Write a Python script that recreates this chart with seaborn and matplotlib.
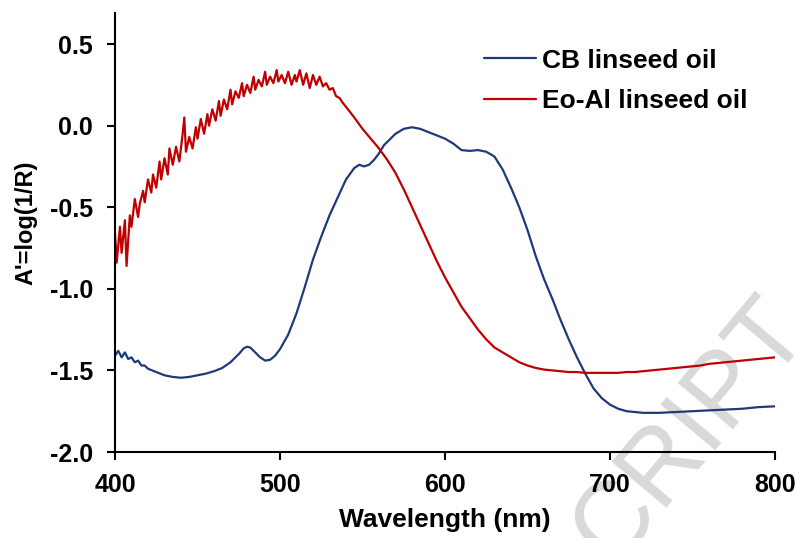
import numpy as np
import pandas as pd
import matplotlib
matplotlib.use("Agg")
import matplotlib.pyplot as plt
import seaborn as sns

# ---- data ----
cb_wavelength = [400, 402, 404, 406, 408, 410, 412, 414, 416, 418, 420, 425, 430, 435, 440,
                 445, 450, 455, 460, 465, 470, 475, 478, 480, 482, 485, 488, 491, 494, 497,
                 500, 505, 510, 515, 520, 525, 530, 535, 540, 545, 548, 551, 554, 557, 560,
                 563, 566, 570, 575, 580, 585, 590, 595, 600, 605, 610, 615, 620, 625, 630,
                 635, 640, 645, 650, 655, 660, 665, 670, 675, 680, 685, 690, 695, 700, 705,
                 710, 715, 720, 730, 740, 750, 760, 770, 780, 790, 800]
cb_absorb = [-1.41, -1.38, -1.42, -1.39, -1.43, -1.42, -1.45, -1.44, -1.47, -1.47, -1.49,
             -1.51, -1.53, -1.54, -1.545, -1.54, -1.53, -1.52, -1.505, -1.485, -1.45, -1.40,
             -1.365, -1.355, -1.36, -1.39, -1.42, -1.44, -1.435, -1.41, -1.37, -1.28, -1.15,
             -0.99, -0.82, -0.68, -0.55, -0.44, -0.33, -0.26, -0.24, -0.25, -0.24, -0.21,
             -0.17, -0.12, -0.09, -0.05, -0.02, -0.01, -0.02, -0.04, -0.06, -0.08, -0.11,
             -0.15, -0.155, -0.15, -0.16, -0.19, -0.27, -0.38, -0.50, -0.64, -0.80, -0.94,
             -1.06, -1.19, -1.31, -1.42, -1.52, -1.61, -1.67, -1.71, -1.735, -1.75, -1.755,
             -1.76, -1.76, -1.755, -1.75, -1.745, -1.74, -1.735, -1.725, -1.72]

eo_wavelength = [400, 401, 403, 404, 406, 407, 409, 410, 412, 414, 415, 417, 418, 420, 422,
                 423, 425, 427, 428, 430, 432, 433, 435, 437, 439, 441, 442, 443, 445, 447,
                 449, 450, 452, 454, 456, 457, 459, 461, 463, 464, 466, 468, 470, 471, 473,
                 475, 477, 478, 480, 482, 484, 485, 487, 489, 491, 492, 494, 496, 498, 499,
                 501, 503, 505, 507, 509, 510, 512, 514, 516, 518, 520, 522, 524, 526, 528,
                 530, 532, 534, 536, 538, 540,
                 545, 550, 555, 560, 565, 570, 575, 580, 585, 590, 595, 600, 605, 610, 615,
                 620, 625, 630, 635, 640, 645, 650, 655, 660, 665, 670, 675, 680, 685, 690,
                 695, 700, 705, 710, 715, 720, 725, 730, 735, 740, 745, 750, 755, 760, 765,
                 770, 775, 780, 785, 790, 795, 800]
eo_absorb = [-0.66, -0.84, -0.62, -0.78, -0.58, -0.86, -0.55, -0.62, -0.45, -0.56, -0.48,
             -0.40, -0.47, -0.33, -0.41, -0.30, -0.38, -0.22, -0.33, -0.20, -0.30, -0.14,
             -0.24, -0.13, -0.22, -0.05, 0.05, -0.16, -0.07, -0.14, -0.01, -0.08, 0.04,
             -0.05, 0.07, 0.00, 0.10, 0.03, 0.15, 0.06, 0.16, 0.10, 0.22, 0.13, 0.21,
             0.17, 0.26, 0.18, 0.25, 0.20, 0.30, 0.22, 0.28, 0.24, 0.33, 0.25, 0.30, 0.26,
             0.34, 0.27, 0.31, 0.26, 0.33, 0.25, 0.31, 0.27, 0.34, 0.25, 0.32, 0.23, 0.31,
             0.25, 0.30, 0.24, 0.26, 0.22, 0.23, 0.18, 0.17, 0.14, 0.115,
             0.05, -0.02, -0.08, -0.14, -0.21, -0.29, -0.39, -0.50, -0.61, -0.72, -0.83,
             -0.93, -1.02, -1.11, -1.18, -1.25, -1.31, -1.36, -1.39, -1.42, -1.45, -1.47,
             -1.485, -1.495, -1.50, -1.505, -1.51, -1.51, -1.515, -1.515, -1.515, -1.515,
             -1.515, -1.51, -1.51, -1.505, -1.50, -1.495, -1.49, -1.485, -1.48, -1.475,
             -1.47, -1.46, -1.455, -1.45, -1.445, -1.44, -1.435, -1.43, -1.425, -1.42]

series_names = ["CB linseed oil", "Eo-Al linseed oil"]
series_colors = ["#1F3A7A", "#C00000"]
x_ticks = [400, 500, 600, 700, 800]
y_ticks = [0.5, 0.0, -0.5, -1.0, -1.5, -2.0]

df = pd.concat([
    pd.DataFrame({"Wavelength": cb_wavelength, "A": cb_absorb, "series": series_names[0]}),
    pd.DataFrame({"Wavelength": eo_wavelength, "A": eo_absorb, "series": series_names[1]}),
], ignore_index=True)

sns.set_theme(style="ticks")
plt.rcParams["font.family"] = ["Liberation Sans", "DejaVu Sans"]
plt.rcParams["font.weight"] = "bold"
plt.rcParams["text.color"] = "black"
plt.rcParams["axes.labelcolor"] = "black"
plt.rcParams["xtick.color"] = "black"
plt.rcParams["ytick.color"] = "black"

fig = plt.figure(figsize=(7.97, 5.38), dpi=100)
ax = fig.add_axes([115 / 797, 1 - 452 / 538, 660 / 797, 439 / 538])
ax.patch.set_alpha(0)

# watermark (behind everything)
fig.text(811 / 797, 1 - 330 / 538, "CRIPT", rotation=50, rotation_mode="anchor",
         ha="right", va="baseline", fontsize=74, color="#D9D9D9",
         fontweight="normal", zorder=-1)

sns.lineplot(data=df, x="Wavelength", y="A", hue="series", palette=series_colors,
             estimator=None, sort=False, linewidth=1.6, ax=ax, legend=True)

ax.set_xlim(400, 800)
ax.set_ylim(-2.0, 0.69)
ax.set_xticks(x_ticks)
ax.set_yticks(y_ticks)
ax.set_yticklabels([f"{v:.1f}" for v in y_ticks])
ax.tick_params(axis="both", direction="out", length=6, width=1.5, labelsize=18,
               colors="black")
ax.tick_params(axis="x", pad=9)
ax.tick_params(axis="y", pad=10)
for lab in ax.get_xticklabels() + ax.get_yticklabels():
    lab.set_fontweight("bold")
for s in ["top", "right"]:
    ax.spines[s].set_visible(False)
for s in ["left", "bottom"]:
    ax.spines[s].set_linewidth(1.5)
    ax.spines[s].set_color("black")

ax.set_xlabel("Wavelength (nm)", fontsize=19, fontweight="bold")
ax.set_ylabel("A'=log(1/R)", fontsize=17, fontweight="bold")
ax.xaxis.set_label_coords(0.5, -(508 - 452) / 439)
ax.yaxis.set_label_coords((37 - 115) / 660, (452 - 223) / 439)

handles, labels = ax.get_legend_handles_labels()
leg = ax.legend(handles, labels, loc="upper left", bbox_to_anchor=(473 / 797, 1 - 38 / 538),
                bbox_transform=fig.transFigure, frameon=False, fontsize=19,
                handlelength=2.0, handletextpad=0.2, labelspacing=0.62, borderaxespad=0)
for t in leg.get_texts():
    t.set_fontweight("bold")

fig.savefig("out.png", dpi=100)
